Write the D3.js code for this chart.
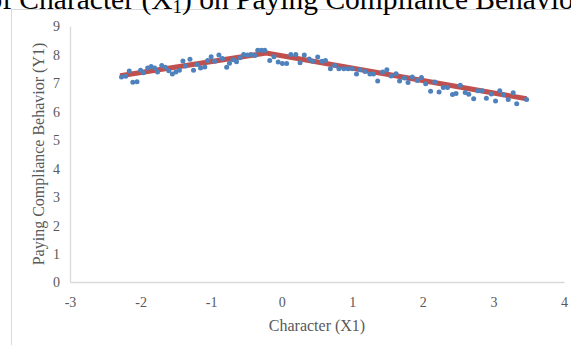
<!DOCTYPE html>
<html>
<head>
<meta charset="utf-8">
<script src="https://cdn.jsdelivr.net/npm/d3@7"></script>
<style>
  html, body { margin: 0; padding: 0; background: #fff; overflow: hidden; }
  svg { display: block; }
</style>
</head>
<body>
<svg id="chart" width="571" height="345"></svg>
<script>
// ---- data ----
const xValues = [
  -2.27, -2.21, -2.16, -2.11, -2.05, -2.00, -1.96, -1.90, -1.85, -1.80,
  -1.76, -1.70, -1.65, -1.60, -1.55, -1.50, -1.45, -1.40, -1.36, -1.30,
  -1.25, -1.20, -1.15, -1.09, -1.05, -1.00, -0.95, -0.89, -0.84, -0.78,
  -0.74, -0.69, -0.64, -0.59, -0.54, -0.49, -0.44, -0.38, -0.34, -0.29,
  -0.24, -0.17, -0.11, -0.05, 0.01, 0.07, 0.13, 0.20, 0.26, 0.32,
  0.39, 0.44, 0.51, 0.57, 0.62, 0.69, 0.75, 0.81, 0.88, 0.94,
  1.00, 1.06, 1.11, 1.18, 1.25, 1.30, 1.36, 1.43, 1.49, 1.55,
  1.62, 1.67, 1.74, 1.79, 1.85, 1.92, 1.98, 2.04, 2.11, 2.17,
  2.23, 2.29, 2.35, 2.42, 2.47, 2.53, 2.60, 2.65, 2.72, 2.78,
  2.84, 2.90, 2.97, 3.03, 3.09, 3.14, 3.21, 3.28, 3.33, 3.47
];
const yValues = [
  7.21, 7.23, 7.42, 7.02, 7.04, 7.44, 7.36, 7.52, 7.58, 7.52,
  7.38, 7.61, 7.55, 7.43, 7.31, 7.38, 7.44, 7.77, 7.59, 7.83,
  7.44, 7.65, 7.52, 7.56, 7.79, 7.92, 7.76, 7.98, 7.86, 7.55,
  7.69, 7.81, 7.74, 7.88, 8.00, 7.98, 8.00, 7.96, 8.15, 8.15,
  8.15, 7.79, 7.92, 7.73, 7.68, 7.68, 8.00, 8.00, 7.71, 7.98,
  7.84, 7.76, 7.91, 7.76, 7.79, 7.50, 7.61, 7.50, 7.50, 7.50,
  7.50, 7.31, 7.46, 7.40, 7.31, 7.31, 7.07, 7.38, 7.46, 7.24,
  7.32, 7.07, 7.17, 7.01, 7.21, 7.08, 7.19, 6.97, 6.71, 7.03,
  6.68, 6.84, 6.84, 6.59, 6.63, 6.92, 6.66, 6.60, 6.44, 6.72,
  6.72, 6.46, 6.61, 6.36, 6.72, 6.58, 6.42, 6.65, 6.27, 6.42
];
const trendX = [-2.29, -0.22, 3.47];
const trendY = [7.25, 8.05, 6.44];
const xTicks = [-3, -2, -1, 0, 1, 2, 3, 4];
const yTicks = [0, 1, 2, 3, 4, 5, 6, 7, 8, 9];
const titlePrefix = "Effect of ";
const titleMain = "Character (X";
const titleSub = "1";
const titleRest = ") on Paying Compliance Behavior";
const xTitle = "Character (X1)";
const yTitle = "Paying Compliance Behavior (Y1)";

// ---- layout ----
const svg = d3.select("#chart");
const plot = { left: 70, right: 564, top: 26, bottom: 282 };
const x = d3.scaleLinear().domain([-3, 4]).range([plot.left, plot.right]);
const y = d3.scaleLinear().domain([0, 9]).range([plot.bottom, plot.top]);
const serif = "'Liberation Serif', 'Times New Roman', serif";
const textGray = "#595959";
const axisGray = "#d9d9d9";

// chart frame
svg.append("rect")
  .attr("x", 11.5).attr("y", 9.5)
  .attr("width", 700).attr("height", 400)
  .attr("fill", "none").attr("stroke", axisGray).attr("stroke-width", 1);

// title (clipped at top)
const titleSize = 29.5;
const title = svg.append("text")
  .attr("y", 9)
  .attr("font-family", serif).attr("font-size", titleSize).attr("fill", "#000");
const tmp = svg.append("text").attr("font-family", serif).attr("font-size", titleSize).text(titlePrefix);
const prefW = tmp.node().getComputedTextLength();
tmp.remove();
title.attr("x", 12 - prefW);
title.append("tspan").text(titlePrefix + titleMain);
title.append("tspan").attr("font-size", 19).attr("dy", 4).text(titleSub);
title.append("tspan").attr("dy", -4).text(titleRest);

// axes
const xAxis = d3.axisBottom(x).tickValues(xTicks).tickSize(0).tickPadding(0).tickFormat(d => String(d));
const gx = svg.append("g").attr("transform", `translate(0,${plot.bottom})`).call(xAxis);
gx.select(".domain").attr("stroke", axisGray).attr("stroke-width", 1.3);
gx.selectAll("text").attr("font-family", serif).attr("font-size", 14).attr("fill", textGray)
  .attr("y", 25).attr("dy", 0);

const yAxis = d3.axisLeft(y).tickValues(yTicks).tickSize(0).tickPadding(10).tickFormat(d => String(d));
const gy = svg.append("g").attr("transform", `translate(${plot.left},0)`).call(yAxis);
gy.select(".domain").attr("stroke", axisGray).attr("stroke-width", 1.3);
gy.selectAll("text").attr("font-family", serif).attr("font-size", 14).attr("fill", textGray)
  .attr("dy", "0.35em");

// axis titles
svg.append("text")
  .attr("x", (plot.left + plot.right) / 2).attr("y", 331)
  .attr("text-anchor", "middle")
  .attr("font-family", serif).attr("font-size", 16).attr("fill", textGray)
  .text(xTitle);
svg.append("text")
  .attr("transform", `translate(44,${(plot.top + plot.bottom) / 2}) rotate(-90)`)
  .attr("text-anchor", "middle")
  .attr("font-family", serif).attr("font-size", 16).attr("fill", textGray)
  .text(yTitle);

// trend line
const line = d3.line().x(d => x(d[0])).y(d => y(d[1]));
svg.append("path")
  .datum(trendX.map((v, i) => [v, trendY[i]]))
  .attr("d", line)
  .attr("fill", "none").attr("stroke", "#c0504d").attr("stroke-width", 5)
  .attr("stroke-linejoin", "round");

// points
svg.append("g").selectAll("circle")
  .data(xValues.map((v, i) => [v, yValues[i]]))
  .join("circle")
  .attr("cx", d => x(d[0])).attr("cy", d => y(d[1]))
  .attr("r", 2.5)
  .attr("fill", "#4f81bd");
</script>
</body>
</html>
